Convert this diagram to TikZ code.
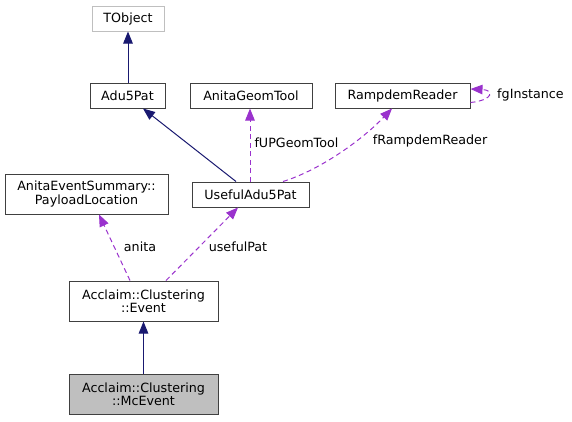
\documentclass[tikz,border=0pt]{standalone}
\usepackage{fontspec}
\setmainfont{DejaVu Sans}
\usetikzlibrary{arrows.meta}
\definecolor{edgeblue}{HTML}{191970}
\definecolor{edgepurple}{HTML}{9A32CD}
\definecolor{boxline}{HTML}{404040}
\definecolor{greyline}{HTML}{BFBFBF}
\definecolor{greyfill}{HTML}{BFBFBF}
\begin{document}
\begin{tikzpicture}[x=1pt,y=-1pt,
  every node/.style={font=\fontsize{12.7}{13.3}\selectfont, inner sep=0pt},
  cls/.style={draw=boxline, line width=1pt, fill=white, align=center, minimum height=25pt},
  cls2/.style={cls, minimum height=40pt},
  inherit/.style={draw=edgeblue, line width=1pt, -{Triangle[length=12pt,width=9.5pt]}, color=edgeblue},
  usage/.style={draw=edgepurple, line width=1pt, dash pattern=on 5pt off 3.5pt, -{Triangle[length=12pt,width=9.5pt]}, color=edgepurple},
  lbl/.style={text=black}
]
\useasboundingbox (0,0) rectangle (572,421);
\node[cls, draw=greyline, minimum width=72pt] (tobject) at (128,18.5) {TObject};
\node[cls, minimum width=75pt] (adu) at (127.5,95.5) {Adu5Pat};
\node[cls, minimum width=122pt] (geom) at (251,95.5) {AnitaGeomTool};
\node[cls, minimum width=135pt] (ramp) at (402.5,95.5) {RampdemReader};
\node[cls, minimum width=117pt] (useful) at (250.5,194.5) {UsefulAdu5Pat};
\node[cls2, minimum width=163pt] (payload) at (86.5,194) {AnitaEventSummary::\\PayloadLocation};
\node[cls2, minimum width=149pt] (event) at (143.5,301) {Acclaim::Clustering\\::Event};
\node[cls2, minimum width=149pt, fill=greyfill] (mc) at (143.5,394) {Acclaim::Clustering\\::McEvent};

\draw[inherit] (adu.north -| tobject.south) -- (tobject.south);
\draw[inherit] ([xshift=-14.5pt]useful.north) -- ([xshift=15.5pt]adu.south);
\draw[inherit] (mc.north) -- (event.south);

\draw[usage] ([xshift=-0.5pt]useful.north) -- ([xshift=-1pt]geom.south)
  node[lbl, pos=0.5, anchor=west, xshift=4pt, yshift=2pt] (lgeom) {fUPGeomTool};
\draw[usage] ([xshift=32.5pt]useful.north) .. controls (320,170) and (362,140) .. ([xshift=-10.5pt]ramp.south);
\node[lbl] (lramp) at (430,141) {fRampdemReader};
\draw[usage] ([yshift=-7pt]ramp.east) .. controls (494,100) and (494,90) .. ([yshift=6.5pt]ramp.east);
\node[lbl] (lself) at (530.5,94.5) {fgInstance};
\draw[usage] ([xshift=-13.5pt]event.north) -- ([xshift=12.5pt]payload.south);
\node[lbl] (lanita) at (140,247) {anita};
\draw[usage] ([xshift=22.5pt]event.north) -- ([xshift=-12.5pt]useful.south);
\node[lbl] (luseful) at (238,247) {usefulPat};
\end{tikzpicture}
\end{document}
